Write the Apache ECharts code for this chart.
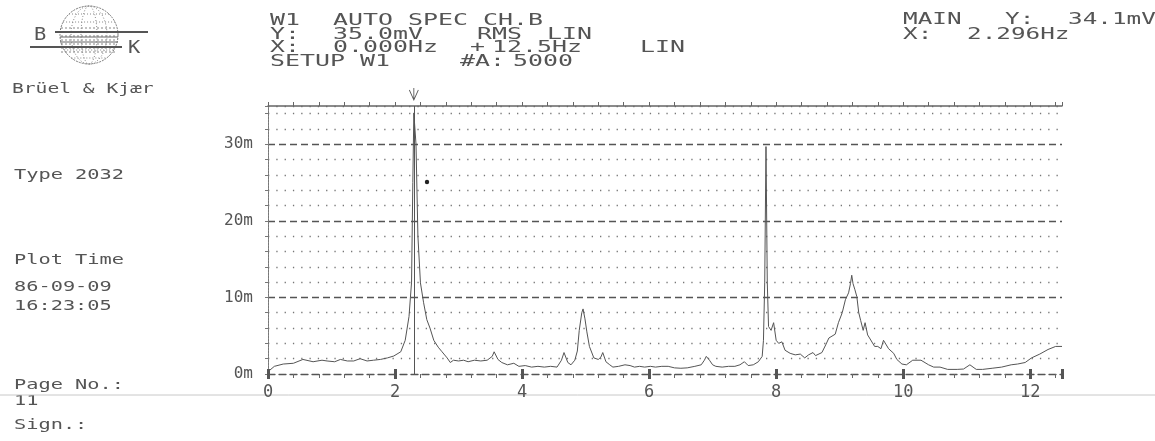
<!DOCTYPE html>
<html>
<head>
<meta charset="utf-8">
<script src="https://cdn.jsdelivr.net/npm/echarts@6/dist/echarts.min.js"></script>
<style>
  html, body { margin: 0; padding: 0; background: #fff; }
  #main { width: 1155px; height: 441px; }
</style>
</head>
<body>
<div id="main"></div>
<script>
// spectrum: frequency (Hz) and RMS level (mV)
var freqHz = [
  0.00, 0.10, 0.24, 0.40, 0.55, 0.71, 0.85, 0.93, 1.05, 1.14,
  1.25, 1.35, 1.45, 1.56, 1.66, 1.77, 1.88, 1.98, 2.09, 2.16,
  2.22, 2.26, 2.28, 2.296, 2.33, 2.36, 2.40, 2.45, 2.50, 2.55,
  2.61, 2.68, 2.74, 2.82, 2.87, 2.92, 3.00, 3.08, 3.15, 3.25,
  3.35, 3.45, 3.53, 3.56, 3.62, 3.68, 3.77, 3.87, 3.95, 4.05,
  4.15, 4.25, 4.35, 4.45, 4.55, 4.62, 4.66, 4.72, 4.77, 4.83,
  4.87, 4.90, 4.94, 4.96, 4.99, 5.02, 5.06, 5.13, 5.20, 5.24,
  5.27, 5.32, 5.38, 5.43, 5.52, 5.62, 5.70, 5.77, 5.85, 5.93,
  6.02, 6.10, 6.20, 6.30, 6.40, 6.50, 6.60, 6.72, 6.82, 6.87,
  6.90, 6.95, 7.00, 7.05, 7.15, 7.25, 7.35, 7.43, 7.50, 7.56,
  7.64, 7.72, 7.78, 7.80, 7.82, 7.84, 7.86, 7.88, 7.92, 7.96,
  8.00, 8.04, 8.09, 8.14, 8.22, 8.30, 8.38, 8.45, 8.51, 8.58,
  8.62, 8.72, 8.78, 8.83, 8.93, 8.98, 9.04, 9.09, 9.14, 9.17,
  9.19, 9.21, 9.24, 9.27, 9.30, 9.33, 9.37, 9.40, 9.44, 9.47,
  9.55, 9.60, 9.65, 9.69, 9.77, 9.85, 9.90, 9.98, 10.05, 10.15,
  10.28, 10.40, 10.48, 10.58, 10.70, 10.85, 10.95, 11.05, 11.15, 11.25,
  11.40, 11.55, 11.70, 11.80, 11.92, 12.02, 12.15, 12.28, 12.40, 12.50
];
var levelMv = [
  0.3, 1.0, 1.3, 1.4, 1.9, 1.6, 1.8, 1.7, 1.6, 1.9,
  1.7, 1.7, 2.0, 1.7, 1.8, 1.9, 2.1, 2.35, 2.9, 4.4,
  7.5, 12.0, 25.0, 34.1, 30.0, 18.0, 11.9, 9.3, 7.1, 6.0,
  4.4, 3.5, 2.9, 2.1, 1.5, 1.8, 1.7, 1.8, 1.6, 1.8,
  1.7, 1.8, 2.3, 2.9, 1.9, 1.5, 1.2, 1.4, 1.0, 1.1,
  0.9, 1.0, 0.9, 1.0, 0.9, 1.8, 2.8, 1.5, 1.2, 1.8,
  3.0, 5.7, 8.0, 8.5, 7.2, 5.5, 3.6, 2.1, 1.9, 2.2,
  2.8, 1.6, 1.2, 0.9, 1.0, 1.2, 1.1, 0.9, 1.0, 0.9,
  1.0, 0.9, 1.0, 1.0, 0.8, 0.75, 0.8, 1.0, 1.2, 1.8,
  2.3, 1.8, 1.2, 1.0, 0.9, 1.0, 1.0, 1.2, 1.6, 1.1,
  1.2, 1.6, 2.3, 4.4, 12.0, 29.7, 12.0, 6.2, 5.7, 6.7,
  4.4, 4.0, 4.2, 3.1, 2.7, 2.5, 2.6, 2.1, 2.5, 2.8,
  2.4, 2.8, 3.8, 4.7, 5.2, 6.7, 8.0, 9.7, 10.6, 11.8,
  12.9, 11.8, 11.0, 10.1, 8.0, 7.0, 5.7, 6.7, 5.1, 4.7,
  3.6, 3.6, 3.3, 4.4, 3.3, 2.7, 1.9, 1.3, 1.2, 1.8,
  1.8, 1.2, 0.9, 0.9, 0.6, 0.6, 0.65, 1.2, 0.6, 0.6,
  0.75, 0.9, 1.2, 1.3, 1.5, 2.1, 2.6, 3.2, 3.6, 3.6
];
var cursorHz = 2.296;
var fullScaleMv = 35;
var spanHz = 12.5;

var headerLeft = [
  ['W1', 'AUTO SPEC CH.B'],
  ['Y:', '35.0mV', 'RMS', 'LIN'],
  ['X:', '0.000Hz', '+', '12.5Hz', 'LIN'],
  ['SETUP W1', '#A:', '5000']
];
var headerRight = [
  ['MAIN', 'Y:', '34.1mV'],
  ['X:', '2.296Hz']
];
var sideLabels = ['Brüel & Kjær', 'Type 2032', 'Plot Time', '86-09-09', '16:23:05', 'Page No.:', '11', 'Sign.:'];

var INK = '#555';
var MONO = 'DejaVu Sans Mono';

function txt(x, y, s, size, sx) {
  return {
    type: 'text', x: x, y: y, scaleX: sx, silent: true,
    style: { text: s, fontFamily: MONO, fontSize: size, fill: INK, verticalAlign: 'middle' }
  };
}

var graphics = [];
// header, left block
var hlX = [[270, 333], [270, 333, 477, 547], [270, 333, 470, 492, 640], [270, 460, 513]];
var hlY = [21, 35, 48, 62];
headerLeft.forEach(function (line, i) {
  line.forEach(function (w, j) { graphics.push(txt(hlX[i][j], hlY[i], w, 15, 1.66)); });
});
// header, right block
var hrX = [[903, 1005, 1068], [903, 967]];
var hrY = [20, 35];
headerRight.forEach(function (line, i) {
  line.forEach(function (w, j) { graphics.push(txt(hrX[i][j], hrY[i], w, 15, 1.62)); });
});
// left column
var sideY = [89, 175, 260, 287, 306, 385, 401, 425];
sideLabels.forEach(function (s, i) {
  graphics.push(txt(i === 0 ? 12 : 14, sideY[i], s, 14, i === 0 ? 1.4 : 1.45));
});

// B&K logo
var logoLine = { stroke: '#666', lineWidth: 1, fill: null };
graphics.push({ type: 'circle', shape: { cx: 89, cy: 35, r: 29 }, style: { stroke: '#777', lineWidth: 1, lineDash: [2, 1], fill: null }, silent: true });
graphics.push({ type: 'ellipse', shape: { cx: 89, cy: 35, rx: 18, ry: 29 }, style: { stroke: '#888', lineWidth: 1, lineDash: [1, 2], fill: null }, silent: true });
graphics.push({ type: 'ellipse', shape: { cx: 89, cy: 35, rx: 8, ry: 29 }, style: { stroke: '#888', lineWidth: 1, lineDash: [1, 2], fill: null }, silent: true });
[14, 22, 50, 58].forEach(function (yy) {
  var dy = yy - 35, hw = Math.sqrt(29 * 29 - dy * dy);
  graphics.push({ type: 'line', shape: { x1: 89 - hw, y1: yy, x2: 89 + hw, y2: yy }, style: { stroke: '#888', lineWidth: 1, lineDash: [1, 2] }, silent: true });
});
for (var gx = 62; gx <= 116; gx += 4) {
  graphics.push({ type: 'line', shape: { x1: gx, y1: 27, x2: gx, y2: 54 }, style: { stroke: '#888', lineWidth: 1, lineDash: [2, 2] }, silent: true });
}
graphics.push({ type: 'line', shape: { x1: 55, y1: 32, x2: 148, y2: 32 }, style: { stroke: '#555', lineWidth: 2 }, silent: true });
graphics.push({ type: 'line', shape: { x1: 60, y1: 37, x2: 118, y2: 37 }, style: logoLine, silent: true });
graphics.push({ type: 'line', shape: { x1: 60, y1: 42, x2: 118, y2: 42 }, style: logoLine, silent: true });
graphics.push({ type: 'line', shape: { x1: 30, y1: 47, x2: 122, y2: 47 }, style: { stroke: '#555', lineWidth: 2 }, silent: true });
graphics.push(txt(34, 36, 'B', 17, 1.2));
graphics.push(txt(128, 49, 'K', 17, 1.2));

// faint form line across the page
graphics.push({ type: 'line', shape: { x1: 0, y1: 395, x2: 1155, y2: 395 }, style: { stroke: '#c8c8c8', lineWidth: 1 }, silent: true });
// stray ink mark on the print
graphics.push({ type: 'circle', shape: { cx: 427, cy: 182, r: 2.2 }, style: { fill: '#222' }, silent: true });

var seriesData = freqHz.map(function (f, i) { return [f, levelMv[i]]; });

var myChart = echarts.init(document.getElementById('main'));
var option = {
  backgroundColor: '#fff',
  animation: false,
  grid: { left: 268, right: 93, top: 106, bottom: 67 },
  xAxis: [
    { // bottom fine ticks, 0 m line
      type: 'value', min: 0, max: spanHz, interval: 0.4, position: 'bottom',
      axisLine: { show: true, onZero: false, lineStyle: { color: INK, width: 1.3, type: [7, 4] } },
      axisTick: { show: true, length: 4, lineStyle: { color: '#666' } },
      axisLabel: { show: false }, splitLine: { show: false }
    },
    { // bottom labelled ticks
      type: 'value', min: 0, max: spanHz, interval: 2, position: 'bottom',
      axisLine: { show: false },
      axisTick: { show: true, length: 5, lineStyle: { color: '#555', width: 3 } },
      axisLabel: { show: true, margin: 10, color: INK, fontFamily: MONO, fontSize: 17,
        formatter: function (v) { return v > 12.4 ? '' : String(v); } },
      splitLine: { show: false }
    },
    { // top frame
      type: 'value', min: 0, max: spanHz, interval: 0.4, position: 'top',
      axisLine: { show: true, onZero: false, lineStyle: { color: '#666', width: 1.5 } },
      axisTick: { show: true, length: 4, lineStyle: { color: '#666' } },
      axisLabel: { show: false }, splitLine: { show: false }
    },
    {
      type: 'value', min: 0, max: spanHz, interval: 2, position: 'top',
      axisLine: { show: false },
      axisTick: { show: true, length: 5, lineStyle: { color: '#555', width: 3 } },
      axisLabel: { show: false }, splitLine: { show: false }
    }
  ],
  yAxis: [
    { // dotted rows every 2 mV
      type: 'value', min: 0, max: fullScaleMv, interval: 2,
      axisLine: { show: true, lineStyle: { color: '#777', width: 1, type: [2, 1] } },
      axisTick: { show: true, length: 3, lineStyle: { color: '#777' } },
      axisLabel: { show: false },
      splitLine: { show: true, lineStyle: { color: ['none', '#777', '#777', '#777', '#777'], width: 1.3, type: [1.3, 7] } }
    },
    { // dashed rows and labels every 10 mV
      type: 'value', min: 0, max: fullScaleMv, interval: 10, position: 'left',
      axisLine: { show: false }, axisTick: { show: false },
      axisLabel: { show: true, margin: 15, color: INK, fontFamily: MONO, fontSize: 16,
        formatter: function (v) { return v > 34 ? '' : v + 'm'; } },
      splitLine: { show: true, lineStyle: { color: ['none', '#555', '#555', '#555', 'none'], width: 1.4, type: [7, 4] } }
    },
    { // right frame
      type: 'value', min: 0, max: fullScaleMv, position: 'right',
      axisLine: { show: true, lineStyle: { color: '#777', width: 1, type: [2, 1] } },
      axisTick: { show: false }, axisLabel: { show: false }, splitLine: { show: false }
    }
  ],
  series: [
    {
      name: 'AUTO SPEC CH.B',
      type: 'line',
      xAxisIndex: 0, yAxisIndex: 0,
      data: seriesData,
      showSymbol: false,
      lineStyle: { color: '#555', width: 1 },
      silent: true,
      markLine: {
        silent: true, symbol: 'none',
        label: { show: false },
        lineStyle: { color: '#555', width: 1, type: 'solid' },
        data: [{ xAxis: cursorHz }]
      },
      markPoint: {
        silent: true,
        symbol: 'path://M0,2L5,12L10,2M5,0L5,12',
        symbolSize: [9, 12],
        symbolOffset: [0, -12],
        itemStyle: { color: 'none', borderColor: '#555', borderWidth: 1 },
        label: { show: false },
        data: [{ coord: [cursorHz, fullScaleMv] }]
      }
    }
  ],
  graphic: graphics
};
myChart.setOption(option);
</script>
</body>
</html>
